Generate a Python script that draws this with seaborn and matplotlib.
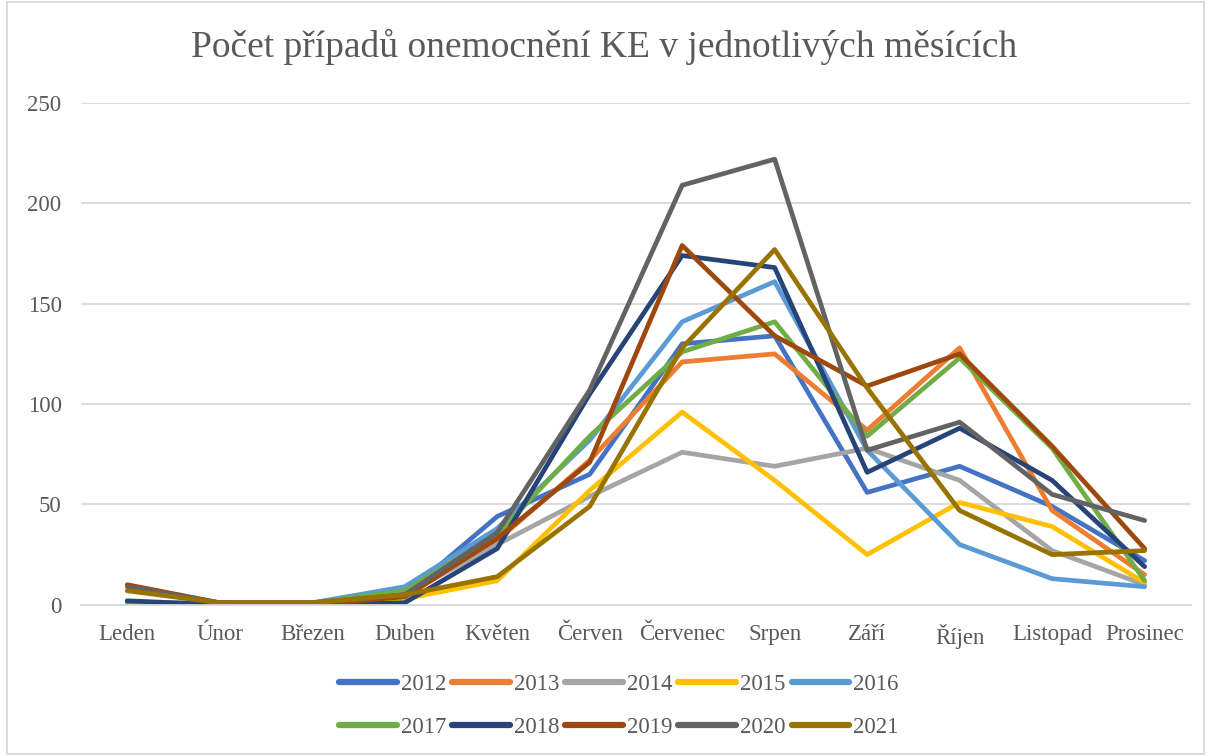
import numpy as np
import pandas as pd
import matplotlib
matplotlib.use("Agg")
import matplotlib.pyplot as plt
import seaborn as sns

# -------------------------
# Data
# -------------------------
months = ["Leden", "Únor", "Březen", "Duben", "Květen", "Červen",
          "Červenec", "Srpen", "Září", "Říjen", "Listopad", "Prosinec"]
years = ["2012", "2013", "2014", "2015", "2016",
         "2017", "2018", "2019", "2020", "2021"]

cases_2012 = [1, 0, 0, 5, 44, 65, 130, 134, 56, 69, 49, 22]
cases_2013 = [0, 0, 0, 4, 32, 72, 121, 125, 87, 128, 47, 15]
cases_2014 = [0, 1, 0, 5, 30, 54, 76, 69, 78, 62, 27, 10]
cases_2015 = [0, 0, 0, 3, 12, 57, 96, 62, 25, 51, 39, 11]
cases_2016 = [1, 1, 1, 9, 38, 82, 141, 161, 77, 30, 13, 9]
cases_2017 = [0, 1, 1, 7, 35, 84, 126, 141, 84, 123, 78, 12]
cases_2018 = [2, 0, 0, 1, 28, 105, 174, 168, 66, 88, 62, 19]
cases_2019 = [10, 1, 0, 4, 33, 71, 179, 134, 109, 125, 79, 28]
cases_2020 = [9, 1, 1, 5, 36, 107, 209, 222, 77, 91, 55, 42]
cases_2021 = [7, 1, 1, 5, 14, 49, 128, 177, 108, 47, 25, 27]

series = [cases_2012, cases_2013, cases_2014, cases_2015, cases_2016,
          cases_2017, cases_2018, cases_2019, cases_2020, cases_2021]

colors = ["#4472C4", "#ED7D31", "#A5A5A5", "#FFC000", "#5B9BD5",
          "#70AD47", "#264478", "#9E480E", "#636363", "#997300"]

# long-form table for seaborn
rows = []
for yr, vals in zip(years, series):
    for i, v in enumerate(vals):
        rows.append({"rok": yr, "mesic": i, "pocet": v})
df = pd.DataFrame(rows)

# -------------------------
# Plot
# -------------------------
sns.set_theme(style="white")
plt.rcParams['font.family'] = ['Liberation Serif', 'DejaVu Serif']
text_color = "#595959"
grid_color = "#D9D9D9"

fig = plt.figure(figsize=(12.09, 7.56), dpi=100)
ax = fig.add_axes([0.067, 0.2, 0.918, 0.6638])

sns.lineplot(data=df, x="mesic", y="pocet", hue="rok",
             palette=dict(zip(years, colors)), linewidth=3.4,
             ax=ax, legend=True)

ax.set_xlim(-0.5, 11.5)
ax.set_ylim(0, 250)
ax.set_yticks([0, 50, 100, 150, 200, 250])
ax.set_xticks(range(len(months)))
ax.set_xticklabels(months)
ax.set_xlabel("")
ax.set_ylabel("")

ax.yaxis.grid(True, color=grid_color, linewidth=1.3)
ax.set_axisbelow(True)
for s in ["top", "right", "left"]:
    ax.spines[s].set_visible(False)
ax.spines["bottom"].set_color(grid_color)
ax.spines["bottom"].set_linewidth(1.3)
ax.tick_params(axis="both", length=0, labelsize=16.5, colors=text_color)
ax.tick_params(axis="x", pad=14)
ax.tick_params(axis="y", pad=14)

fig.suptitle("Počet případů onemocnění KE v jednotlivých měsících",
             fontsize=27, color=text_color, y=0.962)

handles, labels = ax.get_legend_handles_labels()
ax.get_legend().remove()
# legend fills columns first; reorder so it reads row by row
order = [0, 5, 1, 6, 2, 7, 3, 8, 4, 9]
handles = [handles[i] for i in order]
labels = [labels[i] for i in order]
leg = fig.legend(handles, labels, loc="center", bbox_to_anchor=(0.512, 0.066),
                 ncol=5, frameon=False, fontsize=16.5, handlelength=2.5,
                 handletextpad=0.2, columnspacing=0.25, labelspacing=0.95)
for t in leg.get_texts():
    t.set_color(text_color)
for h in leg.get_lines():
    h.set_linewidth(4.5)
    h.set_solid_capstyle("round")

# chart border like the original
fig.patches.append(plt.Rectangle((0.006, 0.003), 0.99, 0.994, transform=fig.transFigure,
                                 fill=False, edgecolor=grid_color, linewidth=1.3))

fig.savefig("out.png", dpi=100)
